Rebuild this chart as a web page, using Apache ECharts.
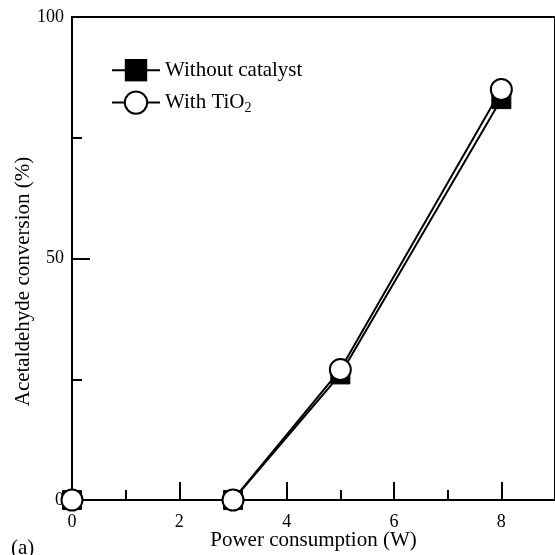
<!DOCTYPE html>
<html>
<head>
<meta charset="utf-8">
<script src="https://cdn.jsdelivr.net/npm/echarts@6/dist/echarts.min.js"></script>
<style>
  html, body { margin: 0; padding: 0; background: #fff; }
  #box { width: 555px; height: 555px; }
</style>
</head>
<body>
<div id="box"></div>
<script>
// data
const powerW = [0, 3, 5, 8];
const withoutCatalyst = [0, 0, 26, 83];
const withTiO2 = [0, 0, 27, 85];

const font = "'Liberation Serif', 'DejaVu Serif', serif";

let myecharts = echarts.init(document.getElementById('box'));

function pts(xs, ys) {
  return xs.map((x, i) => [x, ys[i]]);
}

let options = {
  animation: false,
  textStyle: { fontFamily: font, color: '#000' },
  grid: {
    left: 72, top: 17, right: 0, bottom: 55,
    outerBoundsMode: 'none',
    containLabel: false,
    show: true, borderColor: '#000', borderWidth: 2
  },
  legend: {
    orient: 'vertical',
    left: 106,
    top: 54,
    itemWidth: 48,
    itemHeight: 28,
    itemGap: 9,
    textStyle: {
      fontFamily: font, fontSize: 21, color: '#000',
      rich: { s: { fontFamily: font, fontSize: 14, verticalAlign: 'bottom', padding: [11, 0, 0, 0] } }
    },
    formatter: function (name) {
      return name === 'With TiO2' ? 'With TiO{s|2}' : name;
    }
  },
  xAxis: {
    type: 'value',
    min: 0, max: 9, interval: 2,
    name: 'Power consumption (W)',
    nameLocation: 'middle',
    nameGap: 30,
    nameMoveOverlap: false,
    nameTextStyle: { fontFamily: font, fontSize: 21, color: '#000' },
    axisLine: { lineStyle: { color: '#000', width: 2 } },
    axisTick: { inside: true, length: 18, lineStyle: { color: '#000', width: 2 } },
    minorTick: { show: true, splitNumber: 2, length: 10, lineStyle: { color: '#000', width: 2 } },
    axisLabel: { fontFamily: font, fontSize: 18, color: '#000', margin: 13, showMaxLabel: false },
    splitLine: { show: false }
  },
  yAxis: {
    type: 'value',
    min: 0, max: 100, interval: 50,
    name: 'Acetaldehyde conversion (%)',
    nameLocation: 'middle',
    nameGap: 38,
    nameMoveOverlap: false,
    nameTextStyle: { fontFamily: font, fontSize: 21, color: '#000', padding: [0, 46, 0, 0] },
    axisLine: { lineStyle: { color: '#000', width: 2 } },
    axisTick: { inside: true, length: 18, lineStyle: { color: '#000', width: 2 } },
    minorTick: { show: true, splitNumber: 2, length: 10, lineStyle: { color: '#000', width: 2 } },
    axisLabel: { fontFamily: font, fontSize: 18, color: '#000', margin: 8, padding: [5, 0, 0, 0] },
    splitLine: { show: false }
  },
  graphic: [{
    type: 'text', left: 11, top: 538,
    style: { text: '(a)', fontFamily: font, fontSize: 21, fill: '#000' }
  }],
  series: [
    {
      name: 'Without catalyst',
      type: 'line',
      data: pts(powerW, withoutCatalyst),
      symbol: 'rect',
      symbolSize: 19,
      lineStyle: { color: '#000', width: 2 },
      itemStyle: { color: '#000', borderColor: '#000' },
      z: 2
    },
    {
      name: 'With TiO2',
      type: 'line',
      data: pts(powerW, withTiO2),
      symbol: 'circle',
      symbolSize: 21,
      lineStyle: { color: '#000', width: 2 },
      itemStyle: { color: '#fff', borderColor: '#000', borderWidth: 2 },
      z: 3
    }
  ]
};
myecharts.setOption(options);
window.onresize = function () {
  myecharts.resize();
};
</script>
</body>
</html>
